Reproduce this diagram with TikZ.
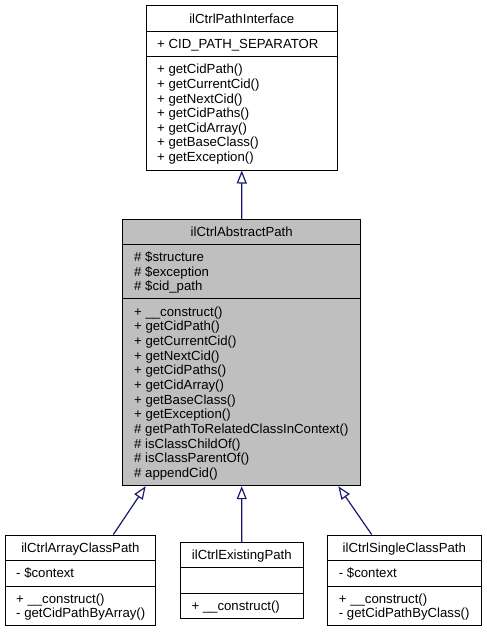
\documentclass[tikz,border=0pt]{standalone}
\usepackage{fontspec}
\setmainfont{Liberation Sans}
\usetikzlibrary{arrows.meta}
\definecolor{navy}{HTML}{191970}
\definecolor{absgray}{HTML}{BFBFBF}
\newcommand{\fs}{\fontsize{13.2pt}{14.6pt}\selectfont}
\tikzset{
  cls/.style={draw=black, line width=1pt, inner sep=0pt, fill=white},
  sep/.style={draw=black, line width=1pt},
  mem/.style={anchor=west, inner sep=0pt, text height=9.5pt, text depth=0pt, font=\fs},
  ttl/.style={anchor=center, inner sep=0pt, text height=9.5pt, text depth=0pt, font=\fs},
  inh/.style={draw=navy, line width=1.2pt, -{Triangle[open, length=13pt, width=10pt]}}
}
\begin{document}
\begin{tikzpicture}[x=1pt, y=-1pt]
\useasboundingbox (0,0) rectangle (487,632);
% class boxes
\node[cls, minimum width=191.5pt, minimum height=164.5pt] (top) at (241.75,87.75) {};
\node[cls, fill=absgray, minimum width=238pt, minimum height=266.4pt] (abs) at (241.7,352.5) {};
\node[cls, minimum width=150.7pt, minimum height=90.7pt] (arr) at (80.35,580.35) {};
\node[cls, minimum width=123pt, minimum height=76pt] (ex) at (241.8,580.3) {};
\node[cls, minimum width=153.3pt, minimum height=90.7pt] (sg) at (404.35,580.35) {};
% separators
\draw[sep] (146,31) -- (337.5,31);
\draw[sep] (146,56) -- (337.5,56);
\draw[sep] (122.7,244) -- (360.7,244);
\draw[sep] (122.7,298.7) -- (360.7,298.7);
\draw[sep] (5,560) -- (155.7,560);
\draw[sep] (5,586) -- (155.7,586);
\draw[sep] (180.3,567.7) -- (303.3,567.7);
\draw[sep] (180.3,593.3) -- (303.3,593.3);
\draw[sep] (327.7,560) -- (481,560);
\draw[sep] (327.7,586) -- (481,586);
% ilCtrlPathInterface
\node[ttl] (top-t) at (241.75,18.25) {ilCtrlPathInterface};
\node[mem] (top-a1) at (157,43.5) {+ CID\_PATH\_SEPARATOR};
\foreach \s [count=\i from 0] in {+ getCidPath(), + getCurrentCid(), + getNextCid(), + getCidPaths(), + getCidArray(), + getBaseClass(), + getException()}
  \node[mem] (top-m\i) at (157,69.2+14.6*\i) {\s};
% ilCtrlAbstractPath
\node[ttl] (abs-t) at (241.7,231.65) {ilCtrlAbstractPath};
\foreach \s [count=\i from 0] in {\# \$structure, \# \$exception, \# \$cid\_path}
  \node[mem] (abs-a\i) at (134,256.75+14.6*\i) {\s};
\foreach \s [count=\i from 0] in {+ \_\_construct(), + getCidPath(), + getCurrentCid(), + getNextCid(), + getCidPaths(), + getCidArray(), + getBaseClass(), + getException(), \# getPathToRelatedClassInContext(), \# isClassChildOf(), \# isClassParentOf(), \# appendCid()}
  \node[mem] (abs-m\i) at (134,311.5+14.65*\i) {\s};
% ilCtrlArrayClassPath
\node[ttl] (arr-t) at (80.35,547.5) {ilCtrlArrayClassPath};
\node[mem] (arr-a1) at (16,573) {- \$context};
\node[mem] (arr-m1) at (16,598.55) {+ \_\_construct()};
\node[mem] (arr-m2) at (16,613.15) {- getCidPathByArray()};
% ilCtrlExistingPath
\node[ttl] (ex-t) at (241.8,555) {ilCtrlExistingPath};
\node[mem] (ex-m1) at (191.3,605.8) {+ \_\_construct()};
% ilCtrlSingleClassPath
\node[ttl] (sg-t) at (404.35,547.5) {ilCtrlSingleClassPath};
\node[mem] (sg-a1) at (338.7,573) {- \$context};
\node[mem] (sg-m1) at (338.7,598.55) {+ \_\_construct()};
\node[mem] (sg-m2) at (338.7,613.15) {- getCidPathByClass()};
% inheritance
\draw[inh] (abs.north) -- (top.south);
\draw[inh] (ex.north) -- (abs.south);
\draw[inh] ([xshift=33pt]arr.north) -- ([xshift=-96pt]abs.south);
\draw[inh] ([xshift=-32.7pt]sg.north) -- ([xshift=96.6pt]abs.south);
\end{tikzpicture}
\end{document}
